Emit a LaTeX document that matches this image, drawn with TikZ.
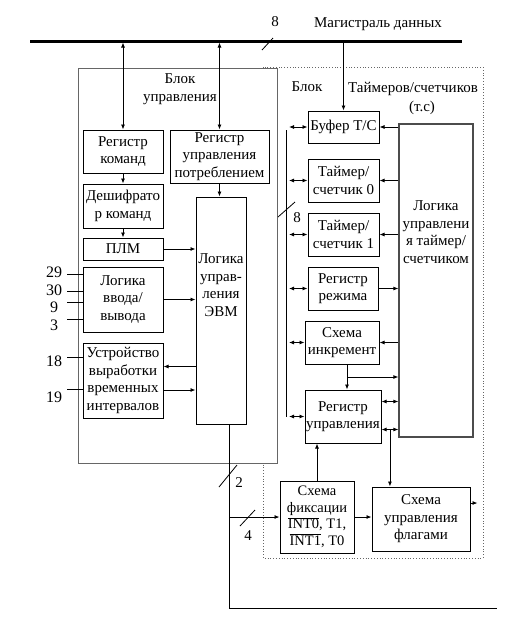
\documentclass[tikz,border=0pt]{standalone}
\usepackage{fontspec}
\setmainfont{Liberation Serif}
\usetikzlibrary{arrows.meta,positioning,calc}

\begin{document}
\begin{tikzpicture}[
    x=1pt, y=-1pt,
    >={Latex[length=5pt,width=4pt]},
    every path/.style={line width=0.8pt},
    blk/.style={rectangle, draw, line width=1pt, align=center, inner sep=1pt, font=\fontsize{15}{17.5}\selectfont},
    lbl/.style={align=center, inner sep=1pt, font=\fontsize{15}{17.5}\selectfont},
    num/.style={inner sep=1pt, font=\fontsize{16}{18}\selectfont},
]
    \useasboundingbox (0,0) rectangle (513,635);

    % outer blocks
    \draw[dotted, draw=black!60] (263,67) rectangle (483,558);
    \draw[draw=black!60, fill=white] (78,68) rectangle (277,463);

    % data bus
    \coordinate (busL) at (30,41);
    \coordinate (busR) at (462,41);
    \draw[line width=3pt] (busL) -- (busR);
    \node[lbl] (busname) at (378,24) {Магистраль данных};
    \node[lbl] (busw) at (275,22) {8};
    \draw (262,50) -- (273,38);

    % control unit
    \node[lbl] (cuname) at (180,89) {Блок\\управления};
    \node[blk, minimum width=80pt, minimum height=43pt] (regcmd) at (123,151.5) {Регистр\\команд};
    \node[blk, minimum width=99pt, minimum height=53pt] (regpwr) at (219.5,156.5) {Регистр\\управления\\потреблением};
    \node[blk, minimum width=80pt, minimum height=44pt] (dec) at (123,206) {Дешифрато\\р команд};
    \node[blk, minimum width=80pt, minimum height=22pt] (plm) at (123,249) {ПЛМ};
    \node[blk, minimum width=80pt, minimum height=65pt] (io) at (123,299.5) {Логика\\ввода/\\вывода};
    \node[blk, minimum width=80pt, minimum height=75pt] (tgen) at (123,380.5) {Устройство\\выработки\\временных\\интервалов};
    \node[blk, minimum width=50pt, minimum height=227pt] (cpu) at (221,310.5) {};
    \node[lbl] (cpulbl) at (221,285) {Логика\\управ-\\ления\\ЭВМ};

    % timer/counter unit
    \node[lbl] (tsname1) at (307,87) {Блок};
    \node[lbl] (tsname2) at (413,89) {Таймеров/счетчиков};
    \node[lbl] (tsname3) at (422,108) {(т.с)};
    \node[blk, minimum width=71pt, minimum height=32pt] (buf) at (343.5,127) {Буфер Т/С};
    \node[blk, minimum width=71pt, minimum height=43pt] (tc0) at (343.5,180.5) {Таймер/\\счетчик 0};
    \node[blk, minimum width=71pt, minimum height=43pt] (tc1) at (343.5,234.5) {Таймер/\\счетчик 1};
    \node[blk, minimum width=70pt, minimum height=43pt] (mode) at (343,288.5) {Регистр\\режима};
    \node[blk, minimum width=74pt, minimum height=43pt] (inc) at (342,342.5) {Схема\\инкремент};
    \node[blk, minimum width=76pt, minimum height=53pt] (ctl) at (343,416.5) {Регистр\\управления};
    \node[blk, minimum width=74pt, minimum height=313pt, draw=black!70, line width=1.3pt] (tslog) at (436,280.5) {};
    \node[lbl] (tsloglbl) at (436,232) {Логика\\управлени\\я таймер/\\счетчиком};
    \node[blk, minimum width=74pt, minimum height=72pt, font=\fontsize{14.5}{16.5}\selectfont] (fix) at (317,517)
        {Схема\\фиксации\\$\overline{\mbox{INT0}}$, T1,\\$\overline{\mbox{INT1}}$, T0};
    \node[blk, minimum width=98pt, minimum height=64pt] (flag) at (421,519) {Схема\\управления\\флагами};

    % bus taps
    \draw[<->, shorten <=1.5pt] (regcmd.north |- busL) -- (regcmd.north);
    \draw[<->, shorten <=1.5pt] (regpwr.north |- busL) -- (regpwr.north);
    \draw[->] (buf.north |- busL) -- (buf.north);

    % control unit links
    \draw[->] (regcmd) -- (dec);
    \draw[->] (dec) -- (plm);
    \draw[->] (regpwr.south) -- (regpwr.south |- cpu.north);
    \draw[->] (plm) -- (plm -| cpu.west);
    \draw[->] (io) -- (io -| cpu.west);
    \coordinate (tgin) at ([yshift=14pt]tgen.east);
    \coordinate (tgout) at ([yshift=-9.5pt]tgen.east);
    \draw[<-] (tgin) -- (tgin -| cpu.west);
    \draw[->] (tgout) -- (tgout -| cpu.west);

    % external pins
    \coordinate (in29) at (67,274);
    \coordinate (in30) at (67,291);
    \coordinate (in9) at (67,302);
    \coordinate (in3) at (67,319);
    \coordinate (in18) at (67,357);
    \coordinate (in19) at (67,389);
    \draw (in29) -- (in29 -| io.west);
    \draw (in30) -- (in30 -| io.west);
    \draw (in9) -- (in9 -| io.west);
    \draw (in3) -- (in3 -| io.west);
    \draw (in18) -- (in18 -| tgen.west);
    \draw (in19) -- (in19 -| tgen.west);
    \node[num] (n29) at (54,272) {29};
    \node[num] (n30) at (54,290) {30};
    \node[num] (n9) at (54,307) {9};
    \node[num] (n3) at (54,325) {3};
    \node[num] (n18) at (54,361) {18};
    \node[num] (n19) at (54,397) {19};

    % internal bus of timer unit
    \coordinate (tbusT) at (286,130);
    \coordinate (tbusB) at (286,417);
    \draw (tbusT) -- (tbusB);
    \draw (278,217) -- (295,202);
    \node[lbl] (tbusw) at (297,218) {8};
    \draw[<->, shorten <=3pt] (tbusT |- buf.west) -- (buf.west);
    \draw[<->, shorten <=3pt] (tbusT |- tc0.west) -- (tc0.west);
    \draw[<->, shorten <=3pt] (tbusT |- tc1.west) -- (tc1.west);
    \draw[<->, shorten <=3pt] (tbusT |- mode.west) -- (mode.west);
    \draw[<->, shorten <=3pt] (tbusT |- inc.west) -- (inc.west);
    \draw[<->, shorten <=3pt] (tbusT |- ctl.west) -- (ctl.west);

    % timer logic links
    \draw[->] (tslog.west |- buf.east) -- (buf.east);
    \draw[->] (tslog.west |- tc0.east) -- (tc0.east);
    \draw[->] (tslog.west |- tc1.east) -- (tc1.east);
    \draw[->] (mode.east) -- (mode.east -| tslog.west);
    \draw[->] (tslog.west |- inc.east) -- (inc.east);
    \coordinate (incout) at ([xshift=5pt]inc.south);
    \draw[->] (incout) -- (incout |- ctl.north);
    \coordinate (incbr) at (347,377);
    \draw[->] (incbr) -- (incbr -| tslog.west);
    \coordinate (ctlA) at ([yshift=15pt]ctl.east);
    \coordinate (ctlB) at ([yshift=-13pt]ctl.east);
    \draw[<->] (ctlA) -- (ctlA -| tslog.west);
    \draw[<->] (ctlB) -- (ctlB -| tslog.west);
    \coordinate (flagin) at ($(ctlB)!0.5!(ctlB -| tslog.west)$);
    \draw[->] (flagin) -- (flagin |- flag.north);
    \draw[->] (fix.north) -- (fix.north |- ctl.south);
    \draw[->] (fix.east) -- (fix.east -| flag.west);
    \coordinate (flagout) at ([yshift=16pt]flag.east);
    \draw[->] (flagout) -- ++(7,0);

    % line from the CPU logic
    \coordinate (cpuout) at ([xshift=8pt]cpu.south);
    \coordinate (botR) at (497,608);
    \draw (cpuout) -- (cpuout |- botR) -- (botR);
    \draw[->] (cpuout |- fix.west) -- (fix.west);
    \draw (219,487) -- (237,465);
    \node[lbl] (w2) at (239,483) {2};
    \draw (240,526) -- (255,510);
    \node[lbl] (w4) at (248,536) {4};
\end{tikzpicture}
\end{document}
